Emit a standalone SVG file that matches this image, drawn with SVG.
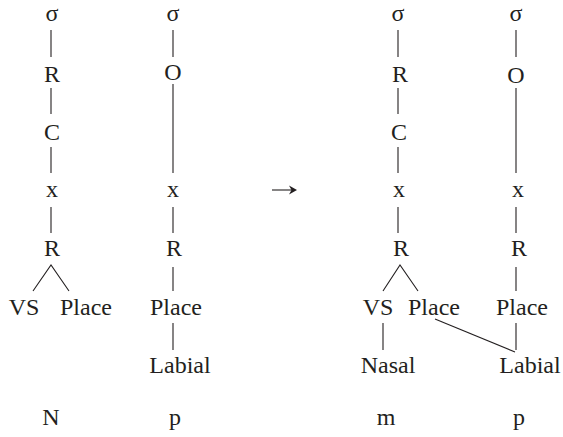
<svg xmlns="http://www.w3.org/2000/svg" width="563" height="437" viewBox="0 0 563 437">
<style>
text{font-size:24px;fill:#231f20;text-anchor:middle}
line,path.c{stroke:#231f20;stroke-width:1.1;fill:none}
</style>
<rect width="563" height="437" fill="#ffffff"/>
<g id="connectors">
<line x1="51" y1="30" x2="51" y2="57"/>
<line x1="51" y1="88" x2="51" y2="114"/>
<line x1="51" y1="147" x2="51" y2="173"/>
<line x1="51" y1="207" x2="51" y2="233"/>
<path class="c" d="M33 291 L51 265 L69 291"/>
<line x1="173" y1="30" x2="173" y2="57"/>
<line x1="173" y1="84" x2="173" y2="173"/>
<line x1="173" y1="207" x2="173" y2="233"/>
<line x1="173" y1="267" x2="173" y2="291"/>
<line x1="173" y1="323" x2="173" y2="350"/>
<line x1="398" y1="30" x2="398" y2="57"/>
<line x1="398" y1="88" x2="398" y2="114"/>
<line x1="398" y1="147" x2="398" y2="173"/>
<line x1="398" y1="207" x2="398" y2="233"/>
<path class="c" d="M383 291 L400 265 L418 291"/>
<line x1="383" y1="323" x2="383" y2="350"/>
<line x1="435" y1="319" x2="515" y2="352"/>
<line x1="516" y1="30" x2="516" y2="57"/>
<line x1="516" y1="88" x2="516" y2="173"/>
<line x1="516" y1="207" x2="516" y2="233"/>
<line x1="516" y1="267" x2="516" y2="291"/>
<line x1="516" y1="323" x2="516" y2="350"/>
<line x1="272" y1="190" x2="295" y2="190"/>
<path d="M289 185.5 L297 190 L289 194.5 L291.5 190 Z" fill="#231f20"/>
</g>
<g font-family="Liberation Serif, serif">
<g id="col1">
<text x="52" y="21">σ</text>
<text x="52" y="82">R</text>
<text x="52" y="140">C</text>
<text x="52" y="197">x</text>
<text x="52" y="256">R</text>
<text x="24" y="315">VS</text>
<text x="86" y="315">Place</text>
<text x="51" y="425">N</text>
</g>
<g id="col2">
<text x="173" y="21">σ</text>
<text x="173" y="80">O</text>
<text x="173" y="197">x</text>
<text x="174" y="256">R</text>
<text x="176" y="315">Place</text>
<text x="180" y="373">Labial</text>
<text x="175" y="425">p</text>
</g>
<g id="col3">
<text x="398" y="21">σ</text>
<text x="400" y="82">R</text>
<text x="399" y="140">C</text>
<text x="399" y="197">x</text>
<text x="401" y="256">R</text>
<text x="378" y="315">VS</text>
<text x="434" y="315">Place</text>
<text x="388" y="373">Nasal</text>
<text x="386" y="425">m</text>
</g>
<g id="col4">
<text x="516" y="21">σ</text>
<text x="516" y="83">O</text>
<text x="518" y="197">x</text>
<text x="519" y="256">R</text>
<text x="522" y="315">Place</text>
<text x="530" y="373">Labial</text>
<text x="519" y="425">p</text>
</g>
</g>
</svg>
